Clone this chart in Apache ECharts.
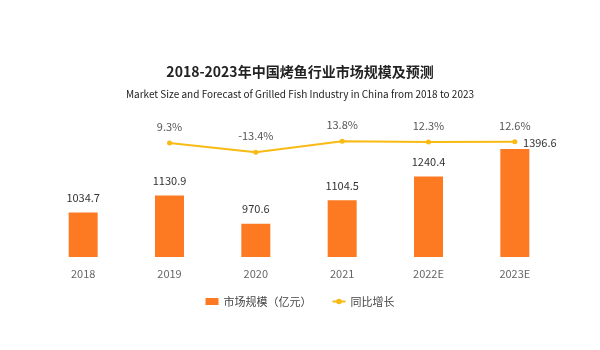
<!DOCTYPE html>
<html>
<head>
<meta charset="utf-8">
<script src="https://cdn.jsdelivr.net/npm/echarts@6/dist/echarts.min.js"></script>
<style>
  html, body { margin: 0; padding: 0; background: #fff; }
  #chart { width: 600px; height: 350px; }
</style>
</head>
<body>
<div id="chart"></div>
<script>
// 年份
var years = ['2018', '2019', '2020', '2021', '2022E', '2023E']
// 市场规模（亿元）
var marketSize = [1034.7, 1130.9, 970.6, 1104.5, 1240.4, 1396.6]
// 同比增长 (%)，2018 无数据
var growth = [null, 9.3, -13.4, 13.8, 12.3, 12.6]

var chart = echarts.init(document.getElementById('chart'))
var font = '"Noto Sans CJK SC", "Liberation Sans Narrow", sans-serif'

// 最后一根柱子的数值标签放在右侧
var barData = marketSize.map(function (v, i) {
  if (i === marketSize.length - 1) {
    return { value: v, label: { position: 'top', offset: [25, 8] } }
  }
  return v
})

var option = {
  backgroundColor: '#fff',
  textStyle: { fontFamily: font },
  title: [{
    text: '2018-2023年中国烤鱼行业市场规模及预测',
    left: 'center',
    top: 60,
    textStyle: { fontSize: 14, fontWeight: 'bold', color: '#222', fontFamily: font }
  }, {
    text: 'Market Size and Forecast of Grilled Fish Industry in China from 2018 to 2023',
    left: 'center',
    top: 84,
    textStyle: { fontSize: 10, fontWeight: 'normal', color: '#222', fontFamily: font }
  }],
  legend: {
    bottom: 38,
    left: 'center',
    itemGap: 20,
    itemWidth: 13,
    itemHeight: 7,
    textStyle: { fontSize: 11, color: '#444' },
    data: [
      { name: '市场规模（亿元）', icon: 'rect' },
      { name: '同比增长' }
    ]
  },
  grid: { left: 40, right: 42, top: 120, bottom: 93 },
  xAxis: {
    type: 'category',
    data: years,
    axisLine: { show: false },
    axisTick: { show: false },
    axisLabel: { color: '#666', fontSize: 11, margin: 11 }
  },
  yAxis: [{
    type: 'value',
    min: 780,
    max: 1563,
    show: false
  }, {
    type: 'value',
    min: -275,
    max: 67,
    show: false
  }],
  series: [{
    name: '市场规模（亿元）',
    type: 'bar',
    data: barData,
    barWidth: 29,
    itemStyle: { color: '#FD7A22' },
    label: {
      show: true,
      position: 'top',
      distance: 9,
      color: '#333',
      fontSize: 11
    }
  }, {
    name: '同比增长',
    type: 'line',
    yAxisIndex: 1,
    data: growth,
    color: '#F9BA14',
    symbol: 'circle',
    symbolSize: 5,
    lineStyle: { width: 2, color: '#F9BA14' },
    itemStyle: { color: '#F9BA14' },
    label: {
      show: true,
      position: 'top',
      distance: 8,
      color: '#555',
      fontSize: 11,
      formatter: function (p) { return p.value + '%' }
    }
  }]
}

chart.setOption(option)
</script>
</body>
</html>
